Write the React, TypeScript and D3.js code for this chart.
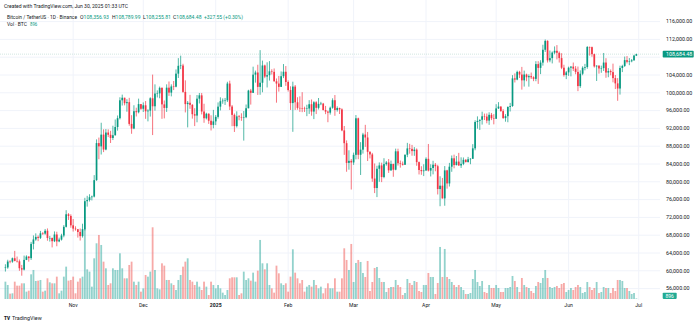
import React from 'react';
import * as d3 from 'd3';

// ---------------- DATA (BTC/USDT daily, Oct 3 2024 .. Jun 30 2025) ----------------
const startDay = '2024-10-03';
const endAxisDay = '2025-07-01';
const firstOpen = 60650;

const closes: number[] = [
  // Oct 3-31
  60750, 62080, 62060, 62820, 62220, 62130, 60580, 60270, 62450, 63190, 62850, 66050, 67040, 67610, 67400, 68420, 68360, 69000, 67370, 67380, 66650, 68160, 66600, 67010, 67930, 69880, 72700, 72330, 70220,
  // Nov
  69480, 69340, 68720, 67790, 69360, 75640, 75900, 76540, 76680, 80370, 88700, 87960, 90600, 87250, 91070, 90560, 89850, 90460, 92310, 94290, 98320, 98890, 97670, 97900, 93010, 91970, 95860, 95640, 97460, 96410,
  // Dec
  97190, 95840, 96000, 98770, 96970, 99830, 99870, 101110, 97400, 96600, 101150, 100040, 101420, 101370, 104300, 106060, 106130, 100200, 97460, 97760, 97290, 95190, 94880, 98680, 99430, 95790, 94280, 95290, 93720, 92790, 93580,
  // Jan
  94590, 96890, 98110, 98240, 98310, 102080, 96920, 95040, 92520, 94700, 94570, 94510, 94520, 96530, 100500, 99990, 104080, 104560, 101330, 102260, 106140, 103650, 103960, 104820, 104710, 102590, 102080, 101330, 103730, 104730, 102430,
  // Feb
  100630, 97690, 101400, 97870, 96610, 96550, 96500, 96440, 96470, 97430, 95780, 97870, 96620, 97510, 97570, 96120, 95770, 95540, 96640, 98330, 96130, 96580, 96270, 91550, 88680, 84250, 84710, 84350,
  // Mar
  86060, 94270, 86070, 87220, 90620, 89960, 86740, 86150, 80730, 78600, 82930, 83680, 81070, 83970, 84340, 82580, 84020, 82720, 86850, 84170, 84040, 83830, 86080, 87500, 87400, 86900, 87230, 84420, 82650, 82390, 82550,
  // Apr
  85160, 82520, 83100, 83840, 83500, 78370, 79130, 76270, 82570, 79630, 83400, 85280, 83760, 84540, 83670, 84030, 84940, 84450, 85060, 85170, 87520, 93440, 93690, 93940, 94720, 94650, 93750, 95050, 94280, 94170,
  // May
  96490, 96910, 95890, 94320, 94750, 96830, 97030, 103240, 102970, 104700, 104100, 102800, 104110, 103500, 103740, 103490, 103130, 106450, 105600, 106790, 109670, 111670, 107290, 107790, 109030, 109440, 108990, 107800, 105640, 103980, 104590,
  // Jun
  105640, 105880, 105430, 104700, 101510, 104290, 105620, 105790, 110290, 110260, 108690, 105930, 106090, 105470, 105550, 106800, 104550, 104880, 104650, 103300, 102120, 100960, 105580, 106030, 107340, 106960, 107090, 107300, 108356.93, 108684.48,
];

const highs: number[] = [
  61470, 62480, 62370, 62980, 64480, 63200, 62540, 61320, 63420, 63480, 63300, 66500, 67950, 68420, 67940, 68970, 68690, 69400, 69520, 67840, 67470, 68850, 68780, 67450, 68320, 70270, 73620, 72960, 72700,
  71630, 70000, 69400, 69500, 70580, 76400, 76850, 77200, 76900, 81500, 89530, 89940, 93270, 91790, 91850, 91780, 91460, 92600, 94000, 94900, 98990, 99590, 98900, 98560, 98870, 94970, 97200, 96650, 98690, 97460,
  97840, 98150, 96300, 99000, 104090, 101900, 100550, 101400, 101220, 98270, 101900, 102540, 101900, 102650, 105250, 107790, 108350, 106520, 102800, 98150, 99540, 97450, 96540, 99500, 99960, 99960, 97540, 95520, 95400, 94940, 96160,
  95000, 97840, 98980, 98740, 98840, 102480, 102720, 97260, 95350, 95840, 95000, 95400, 95900, 97370, 100680, 100870, 105870, 104990, 106300, 109590, 107240, 106330, 106850, 107120, 105290, 105470, 103220, 103780, 104800, 106460, 106010,
  102780, 101460, 102500, 101750, 99000, 99200, 100140, 96880, 97320, 98350, 98500, 98120, 98120, 98830, 97970, 97730, 97050, 96000, 96900, 98760, 99500, 96950, 96670, 96500, 92540, 89300, 87080, 85120,
  86560, 95000, 94420, 88910, 91000, 92800, 91200, 86870, 86500, 84120, 83620, 84360, 84300, 85300, 84670, 85120, 84760, 84050, 87450, 87440, 84780, 84560, 86130, 88750, 88540, 88290, 87790, 87500, 84570, 83500, 83940,
  85490, 88500, 83940, 84720, 84230, 83820, 81240, 80870, 83540, 82700, 84250, 85910, 86100, 85800, 86500, 85500, 85470, 85100, 85600, 85320, 88460, 93820, 94700, 94000, 95760, 95330, 95350, 95620, 95470, 95200,
  97440, 97900, 96950, 96320, 95200, 96920, 97730, 103970, 104360, 104980, 104940, 105820, 104990, 104300, 104140, 104550, 103710, 107110, 107110, 107320, 110800, 111980, 111800, 109500, 109300, 110420, 110720, 109300, 108900, 106300, 104900,
  105880, 105990, 106800, 106000, 105900, 105050, 105950, 106500, 110500, 110400, 110390, 108800, 106200, 106200, 106100, 108950, 107780, 105550, 105240, 106550, 104000, 103300, 106100, 106300, 108150, 108250, 107800, 107600, 108530, 108789.99,
];

const lows: number[] = [
  59830, 60460, 61690, 61800, 62130, 61860, 60000, 58900, 60080, 62400, 62050, 62440, 64800, 66750, 66660, 67140, 68050, 68100, 66760, 66570, 65260, 66450, 65520, 66420, 66800, 67530, 69730, 71430, 69680,
  68820, 69020, 67460, 66800, 67460, 69060, 74420, 75560, 75820, 76490, 80220, 85070, 86130, 86670, 87080, 90060, 88720, 89380, 90380, 91500, 94010, 97130, 97180, 95750, 92600, 90790, 91820, 94680, 95380, 96160,
  95690, 94150, 93580, 94660, 90500, 95980, 98950, 98770, 94150, 94250, 95700, 99310, 99200, 100610, 101230, 103330, 105320, 100000, 95590, 92230, 96400, 94200, 92520, 93370, 97600, 95140, 93260, 94010, 93010, 91530, 92030,
  92750, 94200, 96030, 97530, 97270, 97920, 96130, 92500, 91200, 92200, 93830, 93700, 89260, 94300, 96500, 97350, 99950, 102280, 99520, 99550, 100120, 103290, 101200, 102750, 104100, 102500, 97780, 100270, 101330, 103300, 101560,
  100280, 96150, 91230, 96150, 96200, 95700, 95650, 95690, 94750, 95260, 94850, 94090, 95220, 96250, 97220, 96050, 95200, 93390, 95100, 96420, 94830, 95770, 95230, 91370, 86050, 82260, 82720, 78260,
  83800, 85040, 85080, 81530, 86340, 87850, 84670, 85250, 80000, 77460, 76560, 80000, 79930, 80800, 83630, 82000, 82460, 81130, 82590, 83650, 83180, 83650, 83800, 85540, 86310, 85860, 85840, 83600, 81650, 81570, 81280,
  82430, 82320, 81200, 81670, 82370, 77150, 74510, 76240, 74620, 78460, 78940, 82250, 83030, 83680, 83600, 83110, 83740, 84310, 84300, 83950, 85140, 87080, 91940, 91650, 92860, 93880, 93150, 92800, 93860, 92910,
  94120, 96350, 95740, 94140, 93510, 93380, 95800, 96850, 102320, 102820, 103330, 100720, 101400, 102600, 101380, 103100, 102610, 102600, 102000, 104200, 106100, 109180, 106800, 106870, 106600, 108670, 107500, 106800, 105320, 103630, 103070,
  103800, 103700, 104900, 104170, 100370, 101100, 103950, 105050, 105400, 108350, 108100, 105670, 102660, 104300, 104500, 104900, 103370, 103500, 103930, 102350, 100840, 98200, 99600, 104650, 105800, 106600, 106200, 106860, 107200, 108255.81,
];

// volume in thousand BTC
const volumes: number[] = [
  26, 21, 8, 8.5, 26, 20, 20, 23.5, 23.5, 11, 12.5, 37, 43.5, 27, 27.5, 28.5, 11, 12.5, 31, 25, 23.5, 23.5, 33.5, 8.5, 12.5, 33.5, 48.5, 27.5, 28.5,
  33.5, 8.5, 26, 31, 33.5, 105, 44.5, 41, 18.5, 61, 83.5, 96, 81, 56, 46, 21, 23.5, 46, 43.5, 43.5, 68.5, 46, 31, 31, 51, 56, 26, 21, 26, 11,
  16, 36, 33.5, 41, 107.5, 43.5, 16, 14.5, 53.5, 50, 28.5, 28.5, 23.5, 21, 13.5, 28.5, 36, 48.5, 56, 61, 28.5, 26, 21, 26, 18.5, 13.5, 26, 18.5, 6, 26, 21,
  16, 21, 16, 9.5, 6, 13.5, 31, 32.5, 32.5, 32.5, 6, 8.5, 41, 28.5, 31, 27.5, 39.5, 26, 42.5, 88.5, 53.5, 44.5, 53.5, 21, 16, 9.5, 50, 38.5, 23.5, 21, 23.5,
  11, 33.5, 74.5, 39.5, 31, 23.5, 28.5, 11, 18.5, 21, 18.5, 28.5, 21, 16, 18.5, 8.5, 16, 23.5, 16, 16, 31, 11, 11, 31, 76, 58.5, 43.5, 82.5,
  25.5, 54, 58.5, 55.5, 39, 33, 57, 12, 25.5, 46.5, 48, 31.5, 25.5, 25.5, 10.5, 16.5, 18, 18, 28.5, 21, 18, 6, 9, 30, 24, 21, 27, 25.5, 12, 10.5, 21,
  21, 39, 33, 33, 7.5, 24, 78, 33, 75, 33, 30, 25.5, 21, 18, 21, 18, 13.5, 7.5, 7.5, 9, 30, 43.5, 25.5, 19.5, 27, 10.5, 9, 21, 16.5, 16.5,
  21, 16.5, 10.5, 10.5, 16.5, 16.5, 18, 34.5, 27, 18, 10.5, 31.5, 21, 18, 16.5, 12, 9, 19.5, 25.5, 24, 31.5, 43.5, 31.5, 18, 16.5, 18, 19.5, 16.5, 22.5, 24, 10.5,
  13.5, 16.5, 13.5, 18, 21, 18, 9, 10.5, 25.5, 18, 13.5, 16.5, 25.5, 9, 10.5, 18, 16.5, 16.5, 9, 16.5, 12, 28.5, 28.5, 27, 16.5, 16.5, 12, 7.5, 9, 0.896,
];

const priceTicks = [56000, 60000, 64000, 68000, 72000, 76000, 80000, 84000, 88000, 92000, 96000, 100000, 104000, 108000, 112000, 116000];
const monthDates = ['2024-11-01', '2024-12-01', '2025-01-01', '2025-02-01', '2025-03-01', '2025-04-01', '2025-05-01', '2025-06-01', '2025-07-01'];
const monthLabels = ['Nov', 'Dec', '2025', 'Feb', 'Mar', 'Apr', 'May', 'Jun', 'Jul'];

const headerTitle = 'Created with TradingView.com, Jun 30, 2025 01:33 UTC';
const symbolTitle = 'Bitcoin / TetherUS · 1D · Binance';
const ohlcLabels = ['O', 'H', 'L', 'C'];
const ohlcValues = ['108,356.93', '108,789.99', '108,255.81', '108,684.48'];
const changeText = '+327.55 (+0.30%)';
const volTitle = 'Vol · BTC';
const volValue = '896';

// ---------------- CHART ----------------
const W = 700;
const H = 324;
const UP = '#089981';
const DOWN = '#f23645';
const VUP = 'rgba(38,166,154,0.5)';
const VDOWN = 'rgba(239,83,80,0.5)';
const GRID = '#f0f3fa';
const FONT = 'Roboto, "Noto Sans", sans-serif';
const PANE_RIGHT = 660;

export default function App() {
  const start = new Date(startDay + 'T00:00:00Z');
  const x = d3.scaleUtc().domain([start, new Date(endAxisDay + 'T00:00:00Z')]).range([5.4, 638.7]);
  const y = d3.scaleLinear().domain([56000, 116000]).range([288.6, 21.6]);
  const yv = d3.scaleLinear().domain([0, 107.5]).range([299, 227.3]);

  const data = closes.map((c, i) => ({
    date: d3.utcDay.offset(start, i),
    o: i === 0 ? firstOpen : closes[i - 1],
    h: highs[i],
    l: lows[i],
    c,
    v: volumes[i],
  }));
  const last = data[data.length - 1];
  const bodyW = 1.7;
  const volW = 1.8;

  const ohlcX = [80, 112, 143, 173];
  const ohlcW = [29, 28.5, 28, 28.5];

  return (
    <svg width={W} height={H} style={{ position: 'fixed', left: 0, top: 0, background: '#fff' }} fontFamily={FONT}>
      <rect x={0} y={0} width={W} height={H} fill="#fff" />
      {/* grid */}
      {priceTicks.map((t) => (
        <line key={'hg' + t} x1={0} x2={PANE_RIGHT} y1={y(t)} y2={y(t)} stroke={GRID} strokeWidth={1} />
      ))}
      {monthDates.map((d) => {
        const xx = x(new Date(d + 'T00:00:00Z'));
        return <line key={'vg' + d} x1={xx} x2={xx} y1={0} y2={300} stroke={GRID} strokeWidth={1} />;
      })}

      {/* volume */}
      {data.map((d, i) => (
        <rect
          key={'v' + i}
          x={x(d.date) - volW / 2}
          y={yv(d.v)}
          width={volW}
          height={Math.max(0.3, yv(0) - yv(d.v))}
          fill={d.c >= d.o ? VUP : VDOWN}
        />
      ))}

      {/* price line */}
      <line x1={0} x2={PANE_RIGHT} y1={y(last.c)} y2={y(last.c)} stroke="#b8d8d2" strokeOpacity={0.8} strokeWidth={0.8} strokeDasharray="1,1" />

      {/* candles */}
      {data.map((d, i) => {
        const col = d.c >= d.o ? UP : DOWN;
        const cx = x(d.date);
        const top = y(Math.max(d.o, d.c));
        const bot = y(Math.min(d.o, d.c));
        return (
          <g key={'c' + i}>
            <line x1={cx} x2={cx} y1={y(d.h)} y2={y(d.l)} stroke={col} strokeWidth={0.7} />
            <rect x={cx - bodyW / 2} y={top} width={bodyW} height={Math.max(0.5, bot - top)} fill={col} />
          </g>
        );
      })}

      {/* price axis labels */}
      {priceTicks.filter((t) => t !== 108000).map((t) => (
        <text key={'pt' + t} x={666} y={y(t)} dy="0.35em" fontSize={5.1} fill="#131722" textLength={t >= 100000 ? 26.3 : 23.6} lengthAdjust="spacingAndGlyphs">
          {d3.format(',.2f')(t)}
        </text>
      ))}
      {/* last price label */}
      <rect x={662.7} y={y(last.c) - 3.3} width={31} height={6.6} fill={UP} rx={0.8} />
      <text x={666} y={y(last.c)} dy="0.35em" fontSize={5.1} fill="#fff" textLength={26.3} lengthAdjust="spacingAndGlyphs">
        {d3.format(',.2f')(last.c)}
      </text>
      {/* volume label */}
      <rect x={662.7} y={292.7} width={14} height={6.2} fill="#22ab94" rx={0.8} />
      <text x={669.7} y={295.8} dy="0.35em" fontSize={5} fill="#fff" textAnchor="middle">
        {volValue}
      </text>

      {/* time axis labels */}
      {monthDates.map((d, i) => (
        <text
          key={'mt' + d}
          x={x(new Date(d + 'T00:00:00Z'))}
          y={305.6}
          dy="0.35em"
          fontSize={5.1}
          textAnchor="middle"
          fill="#131722"
          fontWeight={monthLabels[i] === '2025' ? 700 : 400}
        >
          {monthLabels[i]}
        </text>
      ))}

      {/* header */}
      <text x={4} y={6.6} dy="0.35em" fontSize={5.2} fill="#131722" textLength={124} lengthAdjust="spacingAndGlyphs">
        {headerTitle}
      </text>
      <text x={7} y={16.8} dy="0.35em" fontSize={5.2} fill="#131722" textLength={70} lengthAdjust="spacingAndGlyphs">
        {symbolTitle}
      </text>
      {ohlcLabels.map((l, i) => (
        <text key={'ohlc' + l} x={ohlcX[i]} y={16.8} dy="0.35em" fontSize={5.2} textLength={ohlcW[i]} lengthAdjust="spacingAndGlyphs">
          <tspan fill="#131722">{l}</tspan>
          <tspan fill={UP}>{ohlcValues[i]}</tspan>
        </text>
      ))}
      <text x={204} y={16.8} dy="0.35em" fontSize={5.2} fill={UP} textLength={39} lengthAdjust="spacingAndGlyphs">
        {changeText}
      </text>
      <text x={7} y={24.3} dy="0.35em" fontSize={5.2} fill="#131722" textLength={20} lengthAdjust="spacingAndGlyphs">
        {volTitle}
      </text>
      <text x={30} y={24.3} dy="0.35em" fontSize={5.2} fill={UP} textLength={7.3} lengthAdjust="spacingAndGlyphs">
        {volValue}
      </text>

      {/* footer logo */}
      <text x={4} y={317.7} dy="0.35em" fontSize={5.2} fontWeight={900} fill="#131722" textLength={6} lengthAdjust="spacingAndGlyphs">
        TV
      </text>
      <text x={12} y={317.7} dy="0.35em" fontSize={5.2} fill="#131722" textLength={29.7} lengthAdjust="spacingAndGlyphs">
        TradingView
      </text>
    </svg>
  );
}
